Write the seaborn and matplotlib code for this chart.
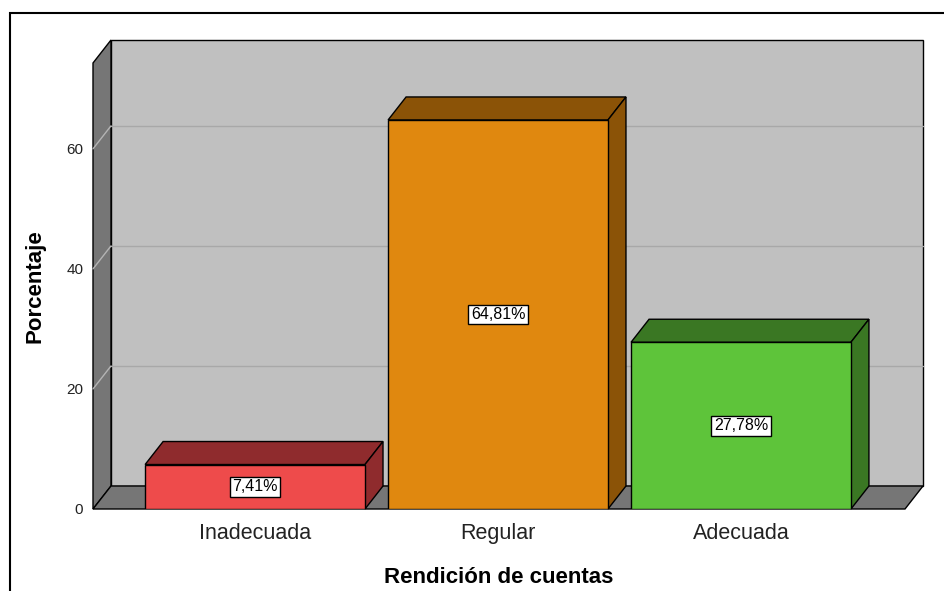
import matplotlib
matplotlib.use("Agg")
import matplotlib.pyplot as plt
from matplotlib.patches import Polygon, Rectangle
import seaborn as sns

categories = ["Inadecuada", "Regular", "Adecuada"]
porcentajes = [7.41, 64.81, 27.78]
yticks = [0, 20, 40, 60]
front_colors = ["#ee4b4b", "#e0880f", "#5ec43a"]
side_colors = ["#8f2b2d", "#8b5307", "#3a7723"]

sns.set_theme(style="white")
plt.rcParams["font.family"] = ["Liberation Sans", "DejaVu Sans"]

W, H = 945, 591
fig = plt.figure(figsize=(W / 100, H / 100), dpi=100)

# the axes is the front face of the 3d box (pixel positions)
left, right, bottom, top = 93, 905, 509, 63
ax = fig.add_axes([left / W, 1 - bottom / H, (right - left) / W, (bottom - top) / H])

sns.barplot(x=categories, y=porcentajes, hue=categories, palette=front_colors,
            width=0.905, saturation=1, edgecolor="black", linewidth=1,
            legend=False, ax=ax, zorder=3)

x0, x1 = -0.667, 2.675
ymax = 74.3
ax.set_xlim(x0, x1)
ax.set_ylim(0, ymax)

# depth of the box, 18 px right and 23 px up, in data units
dx = 18 / ((right - left) / (x1 - x0))
dy = 23 / ((bottom - top) / ymax)

wall = "#767676"
ax.add_patch(Rectangle((x0 + dx, dy), x1 - x0, ymax, facecolor="#c0c0c0",
                       edgecolor="black", lw=1, zorder=0, clip_on=False))
ax.add_patch(Polygon([(x0, 0), (x0, ymax), (x0 + dx, ymax + dy), (x0 + dx, dy)],
                     facecolor=wall, edgecolor="black", lw=1, zorder=0.5, clip_on=False))
ax.add_patch(Polygon([(x0, 0), (x1, 0), (x1 + dx, dy), (x0 + dx, dy)],
                     facecolor=wall, edgecolor="black", lw=1, zorder=0.5, clip_on=False))
for t in yticks[1:]:
    ax.plot([x0 + dx, x1 + dx], [t + dy, t + dy], color="#a8a8a8", lw=1, zorder=0.6, clip_on=False)
    ax.plot([x0, x0 + dx], [t, t + dy], color="#b4b4b4", lw=1, zorder=0.6, clip_on=False)

# top and side faces of each bar
for cont, side, val in zip(ax.containers, side_colors, porcentajes):
    for p in cont:
        xl, w, h = p.get_x(), p.get_width(), p.get_height()
        ax.add_patch(Polygon([(xl, h), (xl + w, h), (xl + w + dx, h + dy), (xl + dx, h + dy)],
                             facecolor=side, edgecolor="black", lw=1, zorder=2, clip_on=False))
        ax.add_patch(Polygon([(xl + w, 0), (xl + w + dx, dy), (xl + w + dx, h + dy), (xl + w, h)],
                             facecolor=side, edgecolor="black", lw=1, zorder=2, clip_on=False))
    ax.bar_label(cont, labels=[f"{val:.2f}%".replace(".", ",")], label_type="center",
                 fontsize=11.5, color="black", zorder=5,
                 bbox=dict(boxstyle="square,pad=0.15", fc="white", ec="black", lw=1))

for s in ax.spines.values():
    s.set_visible(False)
ax.set_yticks(yticks)
ax.tick_params(axis="y", length=0, pad=7, labelsize=11, labelcolor="#222222")
ax.tick_params(axis="x", length=0, pad=10, labelsize=15.5, labelcolor="#222222")

ax.set_xlabel("Rendición de cuentas", fontsize=16, fontweight="bold", color="black")
ax.set_ylabel("Porcentaje", fontsize=16, fontweight="bold", color="black")
ax.xaxis.set_label_coords(0.5, -0.13)
ax.yaxis.set_label_coords(-0.0714, 0.5)
ax.yaxis.label.set_va("center")

# outer frame of the spss output
fig.add_artist(Rectangle((10 / W, -0.1), 1.0, (H - 13) / H + 0.1, transform=fig.transFigure,
                         fill=False, edgecolor="black", lw=1.5))

fig.savefig("out.png", dpi=100)
